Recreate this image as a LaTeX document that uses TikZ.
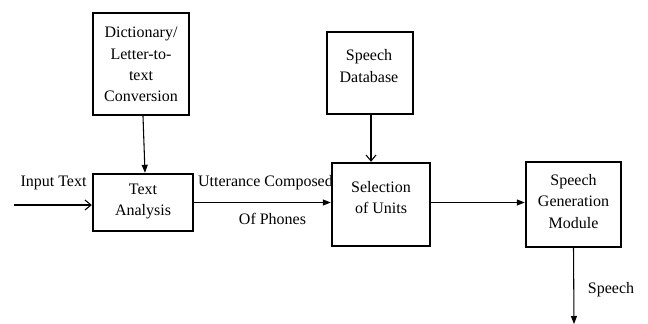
\documentclass[tikz,border=0pt]{standalone}
\usepackage{fontspec}
\setmainfont{Liberation Serif}
\usetikzlibrary{arrows.meta}
\begin{document}
\begin{tikzpicture}[x=0.75pt,y=-0.75pt,
  box/.style={draw,line width=1.8pt,inner sep=0pt},
  txt/.style={align=center,font=\fontsize{12}{16}\selectfont,inner sep=0pt},
  lbl/.style={font=\fontsize{12}{16}\selectfont,inner sep=0pt},
  solidarr/.style={line width=0.8pt,-{Triangle[length=6pt,width=4.5pt]}},
  openarr/.style={line width=0.8pt,-{Straight Barb[length=4.5pt,width=7.5pt,line width=0.8pt]}}]
\useasboundingbox (0,0) rectangle (648,324);
% boxes
\node[box,minimum width=72pt,minimum height=76.5pt] (dict) at (141,64) {};
\node[box,minimum width=75pt,minimum height=42.75pt] (ta) at (143,202.5) {};
\node[box,minimum width=73.5pt,minimum height=62.25pt] (sel) at (381,204.5) {};
\node[box,minimum width=64.5pt,minimum height=61.5pt] (db) at (370,73) {};
\node[box,minimum width=71.25pt,minimum height=63.75pt] (sgm) at (573.5,204.5) {};
% box texts
\node[txt] (dictT) at (141,64.5) {Dictionary/\\Letter-to-\\text\\Conversion};
\node[txt] (taT) at (143,201.5) {Text\\Analysis};
\node[txt] (selT) at (381,197.5) {Selection\\of Units};
\node[txt] (dbT) at (369,66) {Speech\\Database};
\node[txt] (sgmT) at (573.5,201.5) {Speech\\Generation\\Module};
% labels
\node[lbl] (inL) at (53.5,183) {Input Text};
\node[lbl] (utL) at (265.5,183) {Utterance Composed};
\node[lbl] (phL) at (272.5,219) {Of Phones};
\node[lbl] (spL) at (611,290) {Speech};
% connectors
\coordinate (in) at (14,205);
\coordinate (out) at (574,324);
\draw[solidarr] ([xshift=1.5pt]dict.south) -- ([xshift=1.5pt]ta.north);
\draw[openarr] (in) -- (in -| ta.west);
\draw[solidarr] ([yshift=0pt]ta.east) -- (ta.east -| sel.west);
\draw[openarr] ([xshift=0.75pt]db.south) -- ([xshift=0.75pt]db.south |- sel.north);
\draw[solidarr] ([yshift=1.5pt]sel.east) -- ([yshift=1.5pt]sel.east -| sgm.west);
\draw[solidarr] (sgm.south) -- (out);
\end{tikzpicture}
\end{document}
